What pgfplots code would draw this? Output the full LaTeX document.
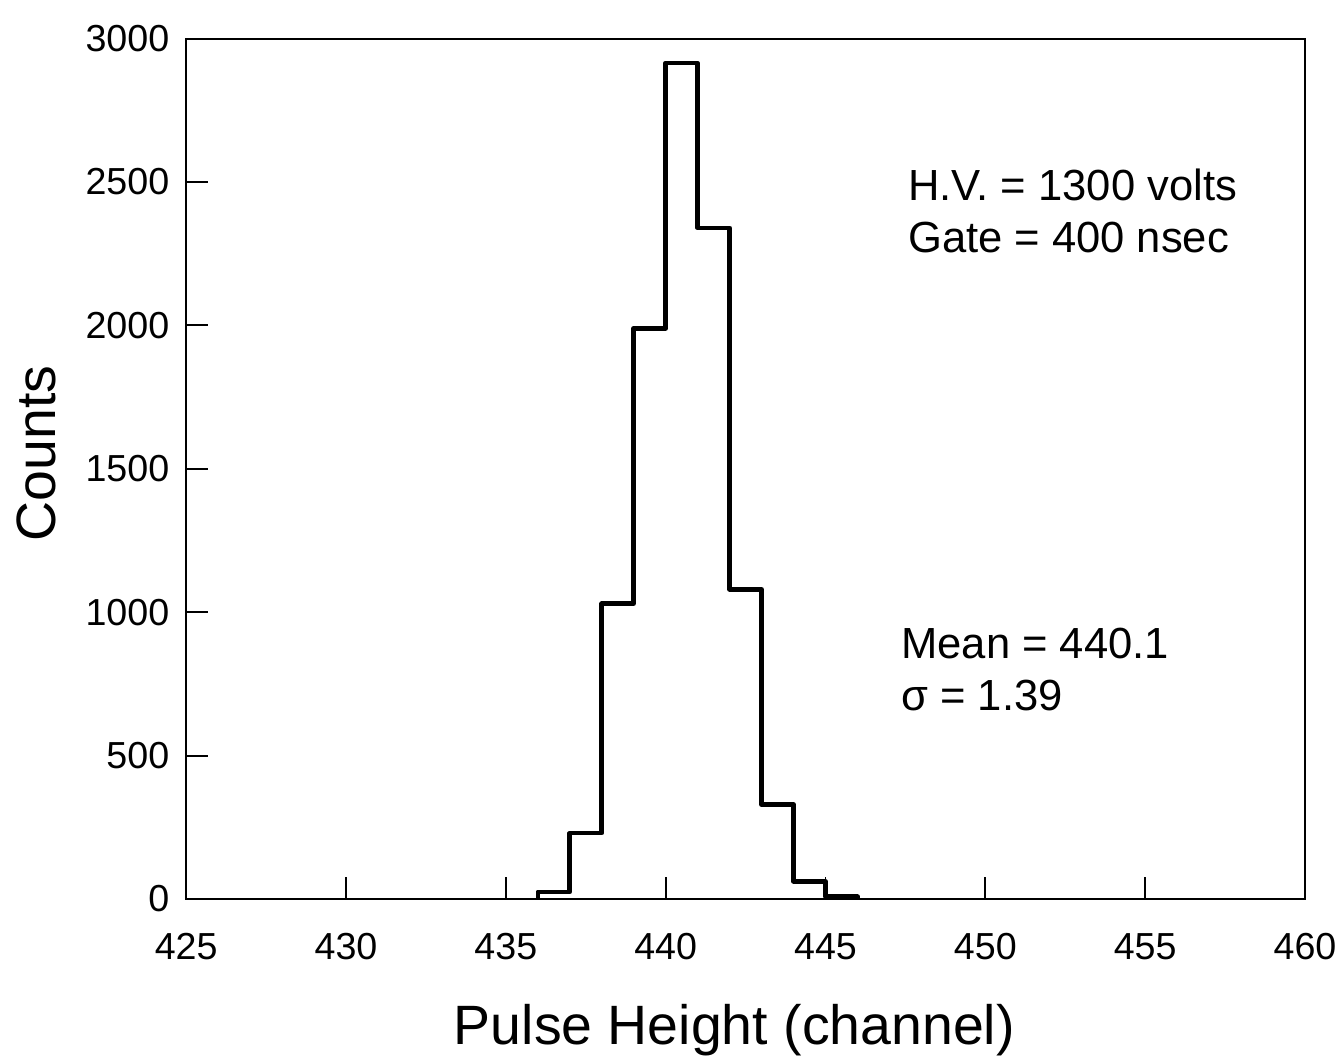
\documentclass[border=0pt]{standalone}
\usepackage{fontspec}
\setmainfont{Liberation Sans}
\usepackage{pgfplots}
\pgfplotsset{compat=1.18}
\begin{document}
\begin{tikzpicture}
\begin{axis}[
  scale only axis,
  width=565pt, height=434.5pt,
  xmin=425, xmax=460, ymin=0, ymax=3000,
  xtick={425,430,...,460},
  ytick={0,500,...,3000},
  xtick pos=bottom, ytick pos=left,
  tick align=inside,
  major tick length=11pt,
  axis line style={line width=1pt},
  every tick/.style={black, line width=1pt},
  /pgf/number format/assume math mode=true,
  /pgf/number format/1000 sep={},
  ticklabel style={font=\fontsize{19}{21}\selectfont},
  xticklabel style={yshift=-13pt, text height=14pt, text depth=0pt},
  yticklabel style={xshift=-5pt},
  xlabel={Pulse Height (channel)},
  ylabel={Counts},
  label style={font=\fontsize{28}{32}\selectfont},
  xlabel style={at={(axis description cs:0.49,-0.152)}, anchor=center},
  ylabel style={at={(axis description cs:-0.1336,0.518)}, anchor=center, rotate=0},
  clip=false,
]
\addplot[const plot mark left, black, line width=2.3pt, line join=round] coordinates {
  (436,0) (436,25) (437,230) (438,1030) (439,1990) (440,2915) (441,2340)
  (442,1080) (443,330) (444,62) (445,8) (446,0)
};
\node[anchor=west, align=left, font=\fontsize{22}{26}\selectfont] at (rel axis cs:0.639,0.80)
  {H.V. = 1300 volts\\Gate = 400 nsec};
\node[anchor=west, align=left, font=\fontsize{22}{26}\selectfont] at (rel axis cs:0.633,0.267)
  {Mean = 440.1\\σ = 1.39};
\end{axis}
\path (-94pt,-83pt) rectangle (577.5pt,454pt);
\end{tikzpicture}
\end{document}
